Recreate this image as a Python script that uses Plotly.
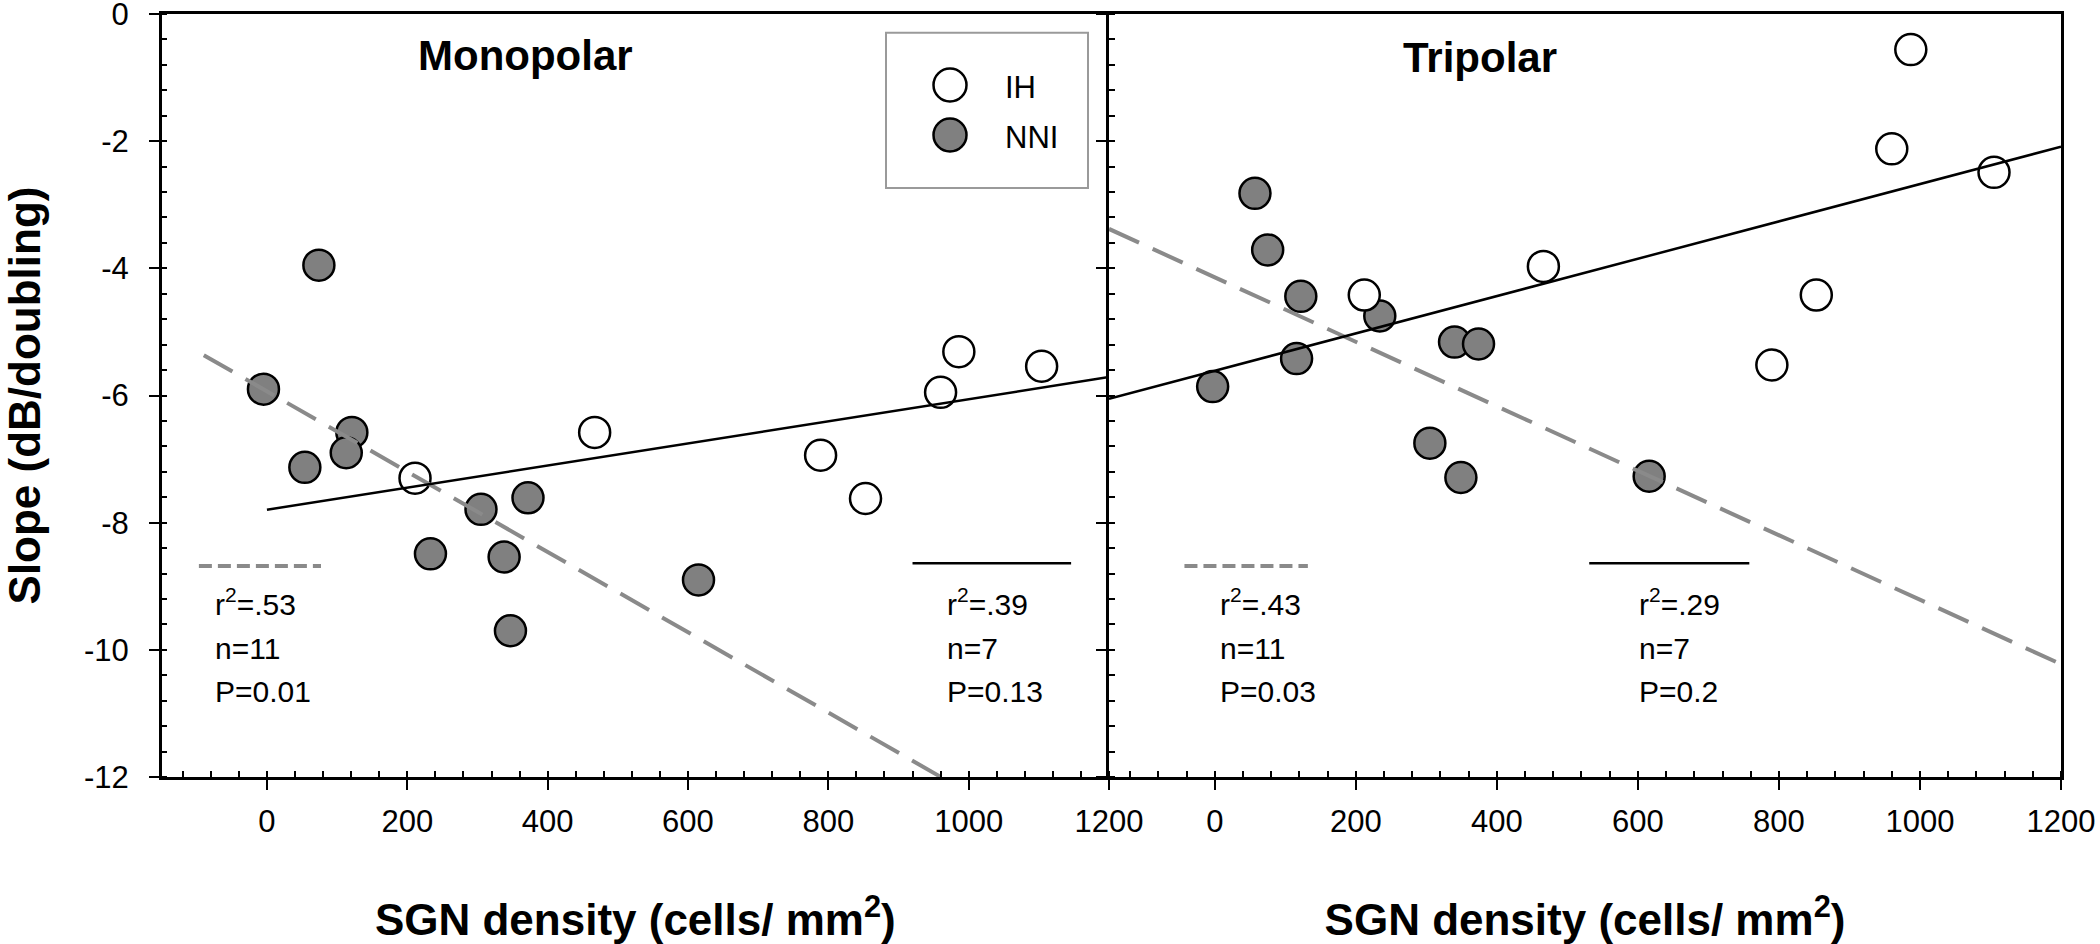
import numpy as np
import plotly.graph_objects as go

# ---------------- data ----------------
mono_density_ih = [211, 467, 789, 853, 960, 986, 1104]
mono_slope_ih = [-7.30, -6.58, -6.94, -7.62, -5.95, -5.31, -5.54]
mono_density_nni = [-5, 74, 54, 121, 113, 233, 305, 372, 338, 347, 615]
mono_slope_nni = [-5.90, -3.95, -7.13, -6.58, -6.90, -8.49, -7.79, -7.61, -8.54, -9.70, -8.90]

tri_density_ih = [212, 466, 790, 853, 960, 987, 1105]
tri_slope_ih = [-4.42, -3.97, -5.52, -4.42, -2.12, -0.56, -2.49]
tri_density_nni = [-3, 57, 75, 122, 116, 234, 340, 374, 305, 349, 616]
tri_slope_nni = [-5.86, -2.82, -3.71, -4.44, -5.42, -4.75, -5.16, -5.19, -6.75, -7.29, -7.27]

# x extent of each regression line
mono_fit_range_ih = [0, 1200]
mono_fit_range_nni = [-90, 1200]
tri_fit_range_ih = [-150, 1200]
tri_fit_range_nni = [-150, 1200]

mono_stats_nni = ["r<sup>2</sup>=.53", "n=11", "P=0.01"]
mono_stats_ih = ["r<sup>2</sup>=.39", "n=7", "P=0.13"]
tri_stats_nni = ["r<sup>2</sup>=.43", "n=11", "P=0.03"]
tri_stats_ih = ["r<sup>2</sup>=.29", "n=7", "P=0.2"]

panel_titles = ["Monopolar", "Tripolar"]
legend_labels = ["IH", "NNI"]
x_tick_vals = [0, 200, 400, 600, 800, 1000, 1200]
y_tick_vals = [0, -2, -4, -6, -8, -10, -12]

# ---------------- layout geometry ----------------
W, H = 2100, 944


def px_x(px):
    return px / W


def px_y(py):
    return 1 - py / H


FONT = "Liberation Sans, Arial, Helvetica, sans-serif"
GREY_FILL = "#808080"
DASH_GREY = "#8a8a8a"
MARKER_SIZE = 31

fig = go.Figure()


def add_panel(xa, ya, dens_ih, slope_ih, dens_nni, slope_nni, rng_ih, rng_nni):
    fig.add_trace(go.Scatter(
        x=dens_nni, y=slope_nni, mode="markers", name="NNI", showlegend=False,
        xaxis=xa, yaxis=ya,
        marker=dict(size=MARKER_SIZE, color=GREY_FILL, line=dict(color="black", width=2.5))))
    fig.add_trace(go.Scatter(
        x=dens_ih, y=slope_ih, mode="markers", name="IH", showlegend=False,
        xaxis=xa, yaxis=ya,
        marker=dict(size=MARKER_SIZE, color="white", line=dict(color="black", width=2.5))))
    # regression lines (least-squares fits of the points)
    b_nni = np.polyfit(dens_nni, slope_nni, 1)
    xs = np.array(rng_nni, dtype=float)
    fig.add_trace(go.Scatter(
        x=xs, y=np.polyval(b_nni, xs), mode="lines", showlegend=False, hoverinfo="skip",
        xaxis=xa, yaxis=ya, line=dict(color=DASH_GREY, width=4, dash="33px,15px")))
    b_ih = np.polyfit(dens_ih, slope_ih, 1)
    xs = np.array(rng_ih, dtype=float)
    fig.add_trace(go.Scatter(
        x=xs, y=np.polyval(b_ih, xs), mode="lines", showlegend=False, hoverinfo="skip",
        xaxis=xa, yaxis=ya, line=dict(color="black", width=2.5)))


add_panel("x", "y", mono_density_ih, mono_slope_ih, mono_density_nni, mono_slope_nni,
          mono_fit_range_ih, mono_fit_range_nni)
add_panel("x2", "y2", tri_density_ih, tri_slope_ih, tri_density_nni, tri_slope_nni,
          tri_fit_range_ih, tri_fit_range_nni)

annotations = []
shapes = []

# stats text blocks and their key lines
stat_rows_y = [-9.24, -9.98, -10.65]
blocks = [
    ("x", "y", -77, mono_stats_nni, (-97, 77), "dash"),
    ("x", "y", 966, mono_stats_ih, (920, 1146), "solid"),
    ("x2", "y2", 4, tri_stats_nni, (-43, 132), "dash"),
    ("x2", "y2", 599, tri_stats_ih, (531, 758), "solid"),
]
for xr, yr, tx, lines, (k0, k1), kind in blocks:
    for txt, ty in zip(lines, stat_rows_y):
        annotations.append(dict(
            xref=xr, yref=yr, x=tx, y=ty, text=txt, showarrow=False,
            xanchor="left", yanchor="middle", font=dict(family=FONT, size=30, color="black")))
    if kind == "dash":
        shapes.append(dict(type="line", xref=xr, yref=yr, x0=k0, x1=k1, y0=-8.68, y1=-8.68,
                           line=dict(color=DASH_GREY, width=4, dash="13px,6px")))
    else:
        shapes.append(dict(type="line", xref=xr, yref=yr, x0=k0, x1=k1, y0=-8.64, y1=-8.64,
                           line=dict(color="black", width=2.5)))

# panel titles
for (xr, yr, tx, ty), title in zip([("x", "y", 369, -0.65), ("x2", "y2", 376, -0.69)], panel_titles):
    annotations.append(dict(
        xref=xr, yref=yr, x=tx, y=ty, text=title, showarrow=False,
        xanchor="center", yanchor="middle",
        font=dict(family=FONT, size=42, color="black", weight="bold")))

# legend box (drawn by hand so the markers keep their real size)
shapes.append(dict(type="rect", xref="paper", yref="paper",
                   x0=px_x(886), x1=px_x(1088), y0=px_y(188), y1=px_y(32.7),
                   line=dict(color="#9a9a9a", width=2), fillcolor="rgba(0,0,0,0)"))
for label, fill, py in zip(legend_labels, ["white", GREY_FILL], [85, 135]):
    shapes.append(dict(type="circle", xref="paper", yref="paper",
                       xsizemode="pixel", ysizemode="pixel",
                       xanchor=px_x(950), yanchor=px_y(py), x0=-16.5, x1=16.5, y0=-16.5, y1=16.5,
                       fillcolor=fill, line=dict(color="black", width=2.5)))
    annotations.append(dict(
        xref="paper", yref="paper", x=px_x(1003), y=px_y(py + 2), text=label, showarrow=False,
        xanchor="left", yanchor="middle", font=dict(family=FONT, size=31, color="black")))

tick_font = dict(family=FONT, size=31, color="black")
title_font = dict(family=FONT, size=44, color="black", weight="bold")

xaxis_common = dict(
    range=[-150, 1200], tickmode="array", tickvals=x_tick_vals,
    ticktext=[str(v) for v in x_tick_vals],
    showline=True, linecolor="black", linewidth=2.5, mirror=True,
    ticks="outside", ticklen=10, tickwidth=2, tickcolor="black",
    minor=dict(ticks="inside", ticklen=6, tickwidth=2, tickcolor="black", dtick=40, tick0=0,
               showgrid=False),
    showgrid=False, zeroline=False, tickfont=tick_font, ticklabelstandoff=5,
    ticklabeloverflow="allow", automargin=False,
    title=dict(text="SGN density (cells/ mm<sup>2</sup>)", font=title_font, standoff=68),
)
yaxis_common = dict(
    range=[-12, 0], tickmode="array", tickvals=y_tick_vals,
    ticktext=[str(v) for v in y_tick_vals],
    showline=True, linecolor="black", linewidth=2.5,
    ticks="outside", ticklen=10, tickwidth=2, tickcolor="black",
    minor=dict(ticks="inside", ticklen=6, tickwidth=2, tickcolor="black", dtick=0.4, tick0=0,
               showgrid=False),
    showgrid=False, zeroline=False, tickfont=tick_font,
    ticklabeloverflow="allow", automargin=False,
)

fig.update_layout(
    width=W, height=H,
    margin=dict(l=0, r=0, t=0, b=0, autoexpand=False),
    paper_bgcolor="white", plot_bgcolor="white",
    showlegend=False,
    xaxis=dict(domain=[px_x(161.7), px_x(1109)], anchor="y", **xaxis_common),
    xaxis2=dict(domain=[px_x(1109), px_x(2061)], anchor="y2", **xaxis_common),
    yaxis=dict(domain=[px_y(777), px_y(14)], anchor="x", ticklabelstandoff=14, mirror=False,
               title=dict(text="Slope (dB/doubling)", font=title_font, standoff=33),
               **yaxis_common),
    yaxis2=dict(domain=[px_y(777), px_y(14)], anchor="x2", showticklabels=False, mirror=True,
                **yaxis_common),
    annotations=annotations,
    shapes=shapes,
    font=dict(family=FONT, color="black"),
)

# the page body has a default 8px margin; remove it so the 2100x944 figure fills the window
fig.write_html("out.html", config={"displayModeBar": False},
               post_script="document.body.style.margin='0px';")
